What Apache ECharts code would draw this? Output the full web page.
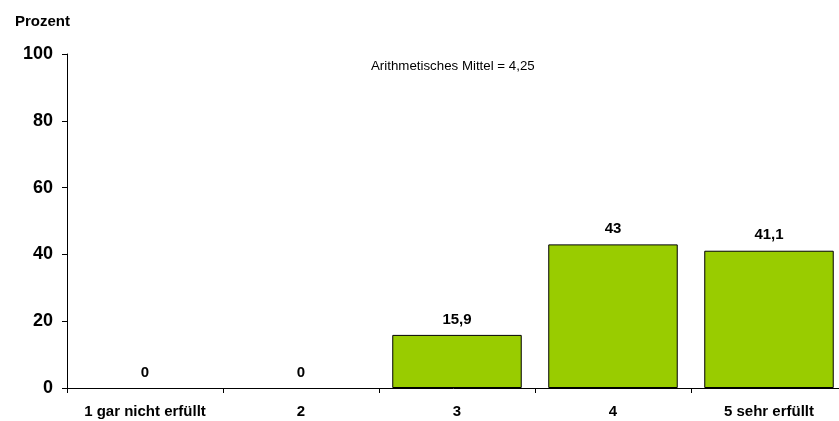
<!DOCTYPE html>
<html>
<head>
<meta charset="utf-8">
<script src="https://cdn.jsdelivr.net/npm/echarts@6/dist/echarts.min.js"></script>
<style>
  html, body { margin: 0; padding: 0; background: #ffffff; }
  #chart { width: 839px; height: 421px; }
</style>
</head>
<body>
<div id="chart"></div>
<script>
// Antwortkategorien und Anteile in Prozent
const categories = ['1 gar nicht erfüllt', '2', '3', '4', '5 sehr erfüllt'];
const percentValues = [0, 0, 15.9, 43, 41.1];
const yTicks = [0, 20, 40, 60, 80, 100];
const meanText = 'Arithmetisches Mittel = 4,25';

const fontFamily = '"Liberation Sans", Arial, sans-serif';
const fmt = v => String(v).replace('.', ',');

const chart = echarts.init(document.getElementById('chart'), null, { renderer: 'canvas' });

// Balken mit Wert 0 ohne Rahmen, damit keine Linie auf der Achse entsteht
const barData = percentValues.map(v => ({
  value: v,
  itemStyle: v === 0 ? { borderWidth: 0, color: 'transparent' } : {}
}));

chart.setOption({
  animation: false,
  backgroundColor: '#ffffff',
  textStyle: { fontFamily },
  title: [
    {
      text: 'Prozent',
      left: 10,
      top: 9,
      textStyle: { fontSize: 15, fontWeight: 'bold', color: '#000', fontFamily }
    },
    {
      text: meanText,
      left: 366,
      top: 55,
      textStyle: { fontSize: 13.3, fontWeight: 'normal', color: '#000', fontFamily }
    }
  ],
  grid: {
    left: 67,
    top: 54,
    width: 780,
    height: 334,
    containLabel: false,
    outerBoundsMode: 'none'
  },
  xAxis: {
    type: 'category',
    data: categories,
    axisLine: { lineStyle: { color: '#000', width: 1 } },
    axisTick: { show: true, length: 5, interval: 0, lineStyle: { color: '#000' } },
    axisLabel: {
      fontSize: 15, fontWeight: 'bold', color: '#000', margin: 16, fontFamily,
      interval: 0, hideOverlap: false
    },
    splitLine: { show: false }
  },
  yAxis: {
    type: 'value',
    min: yTicks[0],
    max: yTicks[yTicks.length - 1],
    interval: yTicks[1] - yTicks[0],
    axisLine: { show: true, lineStyle: { color: '#000', width: 1 } },
    axisTick: { show: true, length: 5, lineStyle: { color: '#000' } },
    axisLabel: { fontSize: 18, fontWeight: 'bold', color: '#000', margin: 14, fontFamily },
    splitLine: { show: false }
  },
  series: [{
    type: 'bar',
    data: barData,
    barCategoryGap: '17%',
    itemStyle: { color: '#99cc00', borderColor: '#000', borderWidth: 1 },
    label: {
      show: true,
      position: 'top',
      distance: 8,
      fontSize: 15,
      fontWeight: 'bold',
      color: '#000',
      fontFamily,
      formatter: p => fmt(p.value)
    }
  }]
});
</script>
</body>
</html>
